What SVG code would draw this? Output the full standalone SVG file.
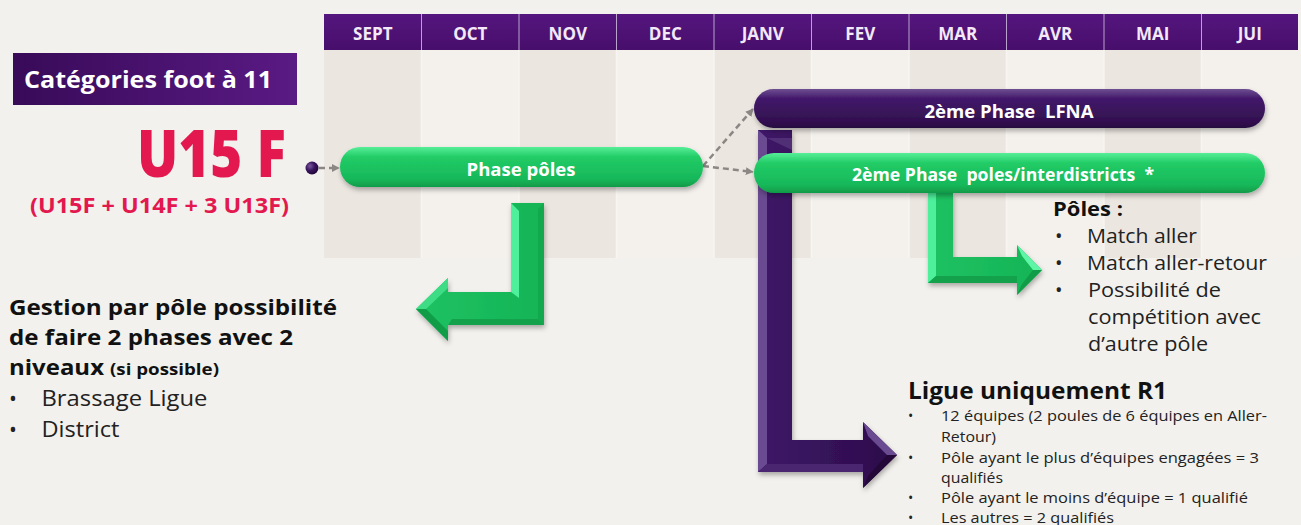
<svg xmlns="http://www.w3.org/2000/svg" width="1301" height="525" viewBox="0 0 1301 525">
<defs>
<style>
.mo{font-family:"Open Sans","Liberation Sans",sans-serif;font-weight:700;font-size:17px;fill:#f3e9f8;text-anchor:middle}
.pill{font-family:"Open Sans","Liberation Sans",sans-serif;font-weight:700;font-size:17px;fill:#ffffff;text-anchor:middle}
.b{font-family:"Open Sans","Liberation Sans",sans-serif;font-weight:700;fill:#111111}
.r{font-family:"Open Sans","Liberation Sans",sans-serif;font-weight:400;fill:#222222}
.sep{stroke:#f7f4f1;stroke-width:1.5}
.hsep{stroke:#b9a2cc;stroke-width:1}
.dash{stroke:#8c8784;stroke-width:2.5;stroke-dasharray:6 4;fill:none}
</style>
<linearGradient id="hdr" x1="0" y1="0" x2="0" y2="1"><stop offset="0" stop-color="#55167e"/><stop offset="1" stop-color="#470e6c"/></linearGradient>
<linearGradient id="cat" x1="0" y1="0" x2="1" y2="0"><stop offset="0" stop-color="#380a58"/><stop offset="1" stop-color="#5a1a84"/></linearGradient>
<linearGradient id="gp" x1="0" y1="0" x2="0" y2="1"><stop offset="0" stop-color="#56ee98"/><stop offset="0.25" stop-color="#22cc66"/><stop offset="0.8" stop-color="#17b85a"/><stop offset="1" stop-color="#109a48"/></linearGradient>
<linearGradient id="pp" x1="0" y1="0" x2="0" y2="1"><stop offset="0" stop-color="#6e4f92"/><stop offset="0.25" stop-color="#42186a"/><stop offset="0.85" stop-color="#32104f"/><stop offset="1" stop-color="#260a3e"/></linearGradient>
<linearGradient id="ga" x1="0" y1="0" x2="1" y2="0"><stop offset="0" stop-color="#1fc262"/><stop offset="1" stop-color="#14b456"/></linearGradient>
<linearGradient id="pa" x1="0" y1="0" x2="1" y2="0"><stop offset="0" stop-color="#3f1868"/><stop offset="1" stop-color="#2c0c4a"/></linearGradient>
<radialGradient id="dot" cx="0.35" cy="0.35" r="0.7"><stop offset="0" stop-color="#7a5a9c"/><stop offset="0.5" stop-color="#3a1460"/><stop offset="1" stop-color="#1e0634"/></radialGradient>
<filter id="sh" x="-10%" y="-30%" width="120%" height="170%"><feDropShadow dx="1" dy="3" stdDeviation="2.5" flood-color="#000" flood-opacity="0.3"/></filter>
<marker id="ah" viewBox="0 0 10 10" refX="9" refY="5" markerWidth="3.2" markerHeight="3.2" orient="auto"><path d="M0,0 L10,5 L0,10 z" fill="#8c8784"/></marker>
</defs>

<rect x="0" y="0" width="1301" height="525" fill="#f3f1ed"/>

<g id="grid">
<rect x="324" y="50" width="97.5" height="208" fill="#ece6e0"/>
<rect x="421.5" y="50" width="97.5" height="208" fill="#f4f1ed"/>
<rect x="519" y="50" width="97.5" height="208" fill="#ece6e0"/>
<rect x="616.5" y="50" width="97.5" height="208" fill="#f4f1ed"/>
<rect x="714" y="50" width="97.5" height="208" fill="#ece6e0"/>
<rect x="811.5" y="50" width="97.5" height="208" fill="#f4f1ed"/>
<rect x="909" y="50" width="97.5" height="208" fill="#ece6e0"/>
<rect x="1006.5" y="50" width="97.5" height="208" fill="#f4f1ed"/>
<rect x="1104" y="50" width="97.5" height="208" fill="#ece6e0"/>
<rect x="1201.5" y="50" width="97.5" height="208" fill="#f4f1ed"/>
<line class="sep" x1="421.5" y1="50" x2="421.5" y2="258"/>
<line class="sep" x1="519" y1="50" x2="519" y2="258"/>
<line class="sep" x1="616.5" y1="50" x2="616.5" y2="258"/>
<line class="sep" x1="714" y1="50" x2="714" y2="258"/>
<line class="sep" x1="811.5" y1="50" x2="811.5" y2="258"/>
<line class="sep" x1="909" y1="50" x2="909" y2="258"/>
<line class="sep" x1="1006.5" y1="50" x2="1006.5" y2="258"/>
<line class="sep" x1="1104" y1="50" x2="1104" y2="258"/>
<line class="sep" x1="1201.5" y1="50" x2="1201.5" y2="258"/>
</g>

<g id="header">
<rect x="324" y="14" width="974" height="36" fill="url(#hdr)"/>
<line class="hsep" x1="421.5" y1="14" x2="421.5" y2="50"/>
<line class="hsep" x1="519" y1="14" x2="519" y2="50"/>
<line class="hsep" x1="616.5" y1="14" x2="616.5" y2="50"/>
<line class="hsep" x1="714" y1="14" x2="714" y2="50"/>
<line class="hsep" x1="811.5" y1="14" x2="811.5" y2="50"/>
<line class="hsep" x1="909" y1="14" x2="909" y2="50"/>
<line class="hsep" x1="1006.5" y1="14" x2="1006.5" y2="50"/>
<line class="hsep" x1="1104" y1="14" x2="1104" y2="50"/>
<line class="hsep" x1="1201.5" y1="14" x2="1201.5" y2="50"/>
<text class="mo" x="372.8" y="40">SEPT</text>
<text class="mo" x="470.3" y="40">OCT</text>
<text class="mo" x="567.8" y="40">NOV</text>
<text class="mo" x="665.3" y="40">DEC</text>
<text class="mo" x="762.8" y="40">JANV</text>
<text class="mo" x="860.3" y="40">FEV</text>
<text class="mo" x="957.8" y="40">MAR</text>
<text class="mo" x="1055.3" y="40">AVR</text>
<text class="mo" x="1152.8" y="40">MAI</text>
<text class="mo" x="1249.8" y="40">JUI</text>
</g>

<g id="categories">
<rect x="13" y="53" width="284" height="52" fill="url(#cat)"/>
<text x="24" y="88" font-family="Open Sans, Liberation Sans, sans-serif" font-weight="700" font-size="23" fill="#ffffff" textLength="248" lengthAdjust="spacingAndGlyphs">Catégories foot à 11</text>
</g>

<g id="u15f">
<text x="137" y="177" font-family="Open Sans, Liberation Sans, sans-serif" font-weight="800" font-size="66" fill="#e2184e" textLength="149" lengthAdjust="spacingAndGlyphs">U15 F</text>
<text x="30" y="213" font-family="Open Sans, Liberation Sans, sans-serif" font-weight="700" font-size="21" fill="#e2184e" textLength="259" lengthAdjust="spacingAndGlyphs">(U15F + U14F + 3 U13F)</text>
<circle cx="312" cy="168" r="6.5" fill="url(#dot)"/>
</g>

<g id="arrow-purple">
<polygon points="758,130 792,130 792,440 863,440 863,422 897,455 863,488 863,472 758,472" fill="url(#pa)" filter="url(#sh)"/>
<polygon points="758,130 767,138 767,464 758,472" fill="#6a4a90"/>
<polygon points="758,472 767,464 863,464 863,472" fill="#4a2670"/>
<polygon points="767,138 792,138 792,150" fill="#5a3a80" opacity="0.7"/>
<polygon points="863,422 897,455 887,455 868,436" fill="#6a4a90"/>
<polygon points="863,488 897,455 887,455 868,476" fill="#230838"/>
</g>

<g id="arrow-green-left">
<polygon points="511,203 544,203 544,325 448,325 448,341 416,309 448,278 448,292 511,292" fill="url(#ga)" filter="url(#sh)"/>
<polygon points="511,203 519,211 519,298 511,292" fill="#4ef09c"/>
<polygon points="544,203 538,209 538,319 544,325" fill="#12a84e"/>
<polygon points="544,325 538,319 452,319 448,325" fill="#13a24b"/>
<polygon points="416,309 448,278 448,288 426,309" fill="#3fdc86"/>
<polygon points="416,309 448,341 448,331 426,309" fill="#119c48"/>
</g>

<g id="arrow-green-right">
<polygon points="928,193 953,193 953,257 1017,257 1017,245 1042,270 1017,295 1017,283 928,283" fill="url(#ga)" filter="url(#sh)"/>
<polygon points="928,193 936,193 936,276 928,283" fill="#4ef09c"/>
<polygon points="928,283 936,276 1017,276 1017,283" fill="#13a24b"/>
<polygon points="1017,245 1042,270 1033,270 1022,256" fill="#5ef5a6"/>
<polygon points="1017,295 1042,270 1033,270 1022,284" fill="#119c48"/>
</g>

<g id="connectors">
<line class="dash" x1="319" y1="168" x2="339" y2="168" marker-end="url(#ah)"/>
<line class="dash" x1="703" y1="166" x2="753" y2="109" marker-end="url(#ah)"/>
<line class="dash" x1="703" y1="166" x2="753" y2="172" marker-end="url(#ah)"/>
</g>

<g id="phase-poles">
<rect x="340" y="147" width="363" height="40" rx="20" fill="url(#gp)" filter="url(#sh)"/>
<text class="pill" x="521" y="176" textLength="109" lengthAdjust="spacingAndGlyphs">Phase pôles</text>
</g>

<g id="phase-lfna">
<rect x="754" y="89" width="511" height="39" rx="19.5" fill="url(#pp)" filter="url(#sh)"/>
<text class="pill" x="1009" y="118" textLength="169" lengthAdjust="spacingAndGlyphs" xml:space="preserve">2ème Phase  LFNA</text>
</g>

<g id="phase-interdistricts">
<rect x="754" y="153" width="511" height="40" rx="20" fill="url(#gp)" filter="url(#sh)"/>
<text class="pill" x="1003" y="181" textLength="302" lengthAdjust="spacingAndGlyphs" xml:space="preserve">2ème Phase  poles/interdistricts  *</text>
</g>

<g id="gestion">
<text class="b" x="9" y="315" font-size="22" textLength="328" lengthAdjust="spacingAndGlyphs">Gestion par pôle possibilité</text>
<text class="b" x="9" y="345" font-size="22" textLength="284" lengthAdjust="spacingAndGlyphs">de faire 2 phases avec 2</text>
<text class="b" x="9" y="375" font-size="22" textLength="95" lengthAdjust="spacingAndGlyphs">niveaux</text>
<text class="b" x="110" y="375" font-size="15.5" textLength="109" lengthAdjust="spacingAndGlyphs">(si possible)</text>
<text class="r" x="9" y="406" font-size="21">•</text>
<text class="r" x="41.5" y="406" font-size="21" textLength="166" lengthAdjust="spacingAndGlyphs">Brassage Ligue</text>
<text class="r" x="9" y="437" font-size="21">•</text>
<text class="r" x="41.5" y="437" font-size="21" textLength="78" lengthAdjust="spacingAndGlyphs">District</text>
</g>

<g id="poles">
<text class="b" x="1053" y="216" font-size="19" textLength="70" lengthAdjust="spacingAndGlyphs">Pôles :</text>
<text class="r" x="1055" y="243" font-size="20">•</text>
<text class="r" x="1087" y="243" font-size="20" textLength="110" lengthAdjust="spacingAndGlyphs">Match aller</text>
<text class="r" x="1055" y="270" font-size="20">•</text>
<text class="r" x="1087" y="270" font-size="20" textLength="180" lengthAdjust="spacingAndGlyphs">Match aller-retour</text>
<text class="r" x="1055" y="297" font-size="20">•</text>
<text class="r" x="1088" y="297" font-size="20" textLength="133" lengthAdjust="spacingAndGlyphs">Possibilité de</text>
<text class="r" x="1088" y="324" font-size="20" textLength="173" lengthAdjust="spacingAndGlyphs">compétition avec</text>
<text class="r" x="1088" y="351" font-size="20" textLength="120" lengthAdjust="spacingAndGlyphs">d’autre pôle</text>
</g>

<g id="ligue">
<text class="b" x="908" y="399" font-size="23" textLength="259" lengthAdjust="spacingAndGlyphs">Ligue uniquement R1</text>
<text class="r" x="908" y="421" font-size="14">•</text>
<text class="r" x="941" y="421" font-size="14" textLength="326" lengthAdjust="spacingAndGlyphs">12 équipes (2 poules de 6 équipes en Aller-</text>
<text class="r" x="941" y="442" font-size="14" textLength="55" lengthAdjust="spacingAndGlyphs">Retour)</text>
<text class="r" x="908" y="463" font-size="14">•</text>
<text class="r" x="941" y="463" font-size="14" textLength="318" lengthAdjust="spacingAndGlyphs">Pôle ayant le plus d’équipes engagées = 3</text>
<text class="r" x="941" y="483" font-size="14" textLength="62" lengthAdjust="spacingAndGlyphs">qualifiés</text>
<text class="r" x="908" y="503" font-size="14">•</text>
<text class="r" x="941" y="503" font-size="14" textLength="307" lengthAdjust="spacingAndGlyphs">Pôle ayant le moins d’équipe = 1 qualifié</text>
<text class="r" x="908" y="523" font-size="14">•</text>
<text class="r" x="941" y="523" font-size="14" textLength="173" lengthAdjust="spacingAndGlyphs">Les autres = 2 qualifiés</text>
</g>
</svg>
